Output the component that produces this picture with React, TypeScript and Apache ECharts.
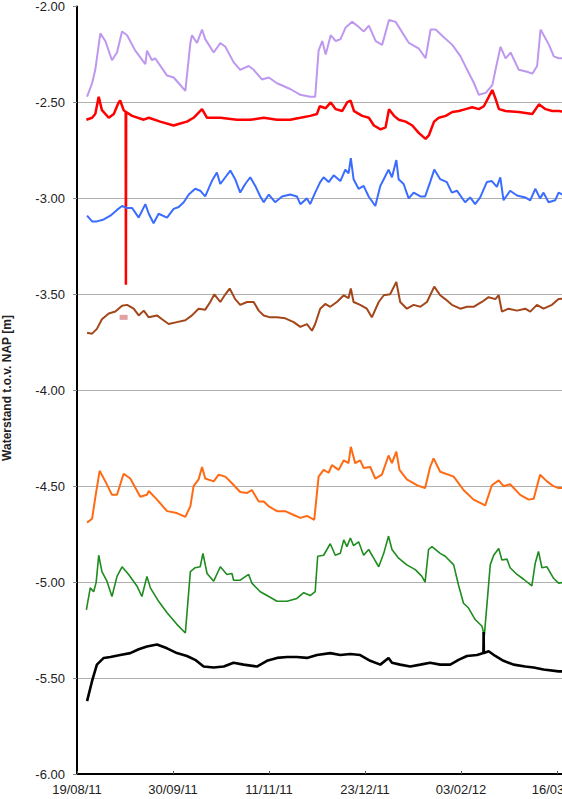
import React, { useEffect, useRef } from "react";
import * as echarts from "echarts";

// x = days since 19/08/2011, y = waterstand [m NAP]
const xTickDays = [0, 42, 84, 126, 168, 210, 252];
const yTicks = [-6, -5.5, -5, -4.5, -4, -3.5, -3, -2.5, -2];

const lavender: number[][] = [
  [4.4, -2.47], [6.6, -2.40], [8.0, -2.33], [10.2, -2.14], [12.4, -2.18], [15.3, -2.28], [17.5, -2.24],
  [19.7, -2.13], [21.9, -2.15], [25.5, -2.23], [29.9, -2.30], [30.6, -2.23], [32.8, -2.28], [34.2, -2.27],
  [39.4, -2.36], [42.3, -2.37], [44.5, -2.40], [47.4, -2.44], [49.6, -2.19], [50.3, -2.15], [52.5, -2.19],
  [54.7, -2.12], [56.1, -2.17], [59.8, -2.24], [62.7, -2.19], [64.9, -2.21], [68.5, -2.29], [71.4, -2.33],
  [75.1, -2.31], [77.3, -2.33], [80.9, -2.38], [83.9, -2.37], [87.5, -2.40], [93.3, -2.43], [97.7, -2.46],
  [102.0, -2.47], [104.2, -2.47], [105.7, -2.23], [107.3, -2.18], [108.8, -2.25], [111.0, -2.15],
  [113.2, -2.18], [115.3, -2.17], [117.5, -2.11], [120.4, -2.08], [122.6, -2.10], [125.5, -2.13],
  [127.7, -2.10], [130.7, -2.18], [133.5, -2.20], [136.5, -2.07], [139.4, -2.08], [145.2, -2.19],
  [149.6, -2.22], [152.5, -2.27], [154.7, -2.12], [156.9, -2.12], [160.5, -2.16], [164.2, -2.20],
  [167.8, -2.26], [170.7, -2.33], [173.7, -2.40], [175.8, -2.46], [178.8, -2.45], [181.7, -2.41],
  [183.1, -2.33], [185.3, -2.21], [187.5, -2.27], [189.7, -2.24], [193.3, -2.33], [196.9, -2.34],
  [199.2, -2.35], [201.3, -2.31], [202.8, -2.12], [206.5, -2.20], [208.6, -2.26], [210.8, -2.27], [214, -2.27],
];

const red: number[][] = [
  [4.1, -2.59], [6.6, -2.58], [8.0, -2.56], [9.5, -2.47], [10.9, -2.54], [13.9, -2.58], [16.1, -2.56],
  [18.2, -2.50], [18.9, -2.49], [20.4, -2.54], [21.3, -2.55], [21.4, -3.45], [21.5, -2.55], [24.1, -2.57],
  [29.2, -2.59], [31.4, -2.58], [36.4, -2.60], [42.3, -2.62], [45.2, -2.61], [48.1, -2.60], [51.0, -2.58],
  [54.7, -2.535], [56.9, -2.58], [62.7, -2.58], [70.0, -2.59], [75.8, -2.59], [81.7, -2.58], [87.5, -2.59],
  [93.3, -2.59], [97.7, -2.58], [102.0, -2.57], [105.0, -2.56], [106.2, -2.52], [108.8, -2.53],
  [111.0, -2.50], [113.2, -2.535], [116.0, -2.545], [118.2, -2.50], [119.7, -2.49], [121.2, -2.545],
  [124.8, -2.57], [127.7, -2.58], [129.9, -2.62], [132.8, -2.64], [135.0, -2.63], [136.5, -2.535],
  [138.7, -2.57], [140.8, -2.59], [143.8, -2.60], [146.7, -2.62], [149.6, -2.66], [152.5, -2.69],
  [154.0, -2.67], [156.2, -2.60], [158.3, -2.58], [161.3, -2.57], [164.2, -2.55], [167.1, -2.545],
  [170.0, -2.535], [172.9, -2.525], [175.8, -2.535], [178.0, -2.52], [180.2, -2.47], [181.7, -2.435],
  [183.1, -2.48], [184.6, -2.535], [187.5, -2.545], [193.3, -2.55], [199.2, -2.56], [202.1, -2.51],
  [205.0, -2.535], [207.9, -2.545], [210.8, -2.545], [214, -2.55],
];

const blue: number[][] = [
  [4.4, -3.09], [6.6, -3.12], [8.7, -3.12], [11.7, -3.11], [14.6, -3.09], [17.5, -3.06], [19.7, -3.04],
  [21.9, -3.05], [24.1, -3.05], [27.0, -3.10], [29.9, -3.03], [31.4, -3.08], [33.5, -3.13], [35.7, -3.08],
  [39.4, -3.10], [42.3, -3.055], [44.5, -3.045], [46.7, -3.02], [48.9, -2.98], [51.7, -2.95], [53.9, -2.96],
  [56.1, -2.99], [59.0, -2.91], [61.2, -2.865], [62.7, -2.925], [64.9, -2.89], [67.1, -2.855], [69.2, -2.90],
  [71.4, -2.97], [73.6, -2.925], [75.8, -2.89], [78.0, -2.935], [80.2, -2.99], [81.7, -3.02], [83.9, -2.98],
  [86.7, -3.02], [89.7, -2.99], [93.3, -2.98], [96.2, -2.99], [97.7, -3.03], [100.6, -3.00], [102.0, -3.03],
  [104.2, -2.97], [106.4, -2.915], [107.9, -2.89], [110.1, -2.915], [112.3, -2.88], [115.2, -2.91],
  [117.4, -2.85], [118.8, -2.87], [119.8, -2.79], [121.0, -2.90], [123.2, -2.95], [125.4, -2.935],
  [127.6, -2.99], [130.5, -3.04], [132.7, -2.935], [134.2, -2.90], [136.3, -2.85], [137.8, -2.89],
  [139.7, -2.80], [140.7, -2.90], [142.9, -2.925], [145.1, -3.00], [147.3, -2.97], [150.2, -2.99],
  [152.3, -2.99], [154.5, -2.915], [156.3, -2.85], [158.9, -2.90], [161.8, -2.915], [164.0, -2.97],
  [166.2, -2.96], [169.8, -3.02], [172.0, -2.995], [174.2, -3.03], [176.4, -2.995], [179.3, -2.915],
  [181.5, -2.91], [183.7, -2.94], [185.2, -2.89], [186.6, -3.01], [189.5, -2.96], [192.5, -2.985],
  [196.1, -2.995], [198.3, -3.01], [200.5, -2.95], [202.6, -3.00], [204.1, -2.97], [206.3, -3.02],
  [209.2, -3.01], [210.7, -2.97], [214, -2.99],
];

const brown: number[][] = [
  [4.4, -3.70], [6.6, -3.705], [8.7, -3.68], [10.9, -3.63], [13.9, -3.60], [16.8, -3.59], [19.7, -3.56],
  [21.9, -3.555], [24.8, -3.575], [27.0, -3.61], [29.2, -3.585], [31.4, -3.62], [35.0, -3.61], [37.2, -3.63],
  [40.1, -3.655], [43.7, -3.645], [47.4, -3.635], [50.3, -3.61], [53.2, -3.575], [56.1, -3.58], [58.3, -3.54],
  [60.1, -3.50], [62.7, -3.54], [64.9, -3.50], [66.8, -3.47], [69.2, -3.525], [71.4, -3.555], [74.4, -3.54],
  [77.3, -3.54], [79.5, -3.585], [81.7, -3.61], [84.5, -3.62], [87.5, -3.62], [91.1, -3.625], [94.8, -3.645],
  [97.7, -3.67], [100.6, -3.655], [102.8, -3.69], [104.2, -3.655], [106.4, -3.575], [108.6, -3.55],
  [110.8, -3.565], [113.7, -3.54], [116.7, -3.505], [118.8, -3.52], [119.8, -3.47], [121.0, -3.54],
  [123.9, -3.555], [126.8, -3.575], [129.0, -3.62], [132.0, -3.54], [134.2, -3.505], [137.0, -3.50],
  [139.7, -3.435], [141.4, -3.54], [144.3, -3.575], [147.3, -3.555], [150.2, -3.565], [153.1, -3.54],
  [156.3, -3.46], [158.9, -3.505], [161.1, -3.525], [164.0, -3.555], [167.7, -3.575], [170.6, -3.565],
  [173.5, -3.565], [177.1, -3.54], [180.1, -3.515], [183.0, -3.525], [184.5, -3.505], [185.9, -3.59],
  [188.8, -3.575], [192.5, -3.585], [196.1, -3.575], [198.3, -3.59], [201.2, -3.555], [204.1, -3.575],
  [207.8, -3.555], [210.7, -3.525], [214, -3.52],
];

const orange: number[][] = [
  [4.4, -4.69], [6.6, -4.67], [8.0, -4.56], [9.9, -4.42], [12.4, -4.475], [15.3, -4.545], [17.5, -4.545],
  [20.4, -4.435], [23.3, -4.46], [27.7, -4.555], [30.6, -4.545], [31.4, -4.525], [35.0, -4.57], [39.4, -4.63],
  [43.7, -4.64], [47.4, -4.66], [49.6, -4.605], [51.0, -4.50], [53.2, -4.465], [54.7, -4.40], [56.1, -4.46],
  [59.8, -4.475], [62.0, -4.44], [64.9, -4.45], [67.8, -4.485], [71.4, -4.53], [74.4, -4.535], [76.5, -4.52],
  [79.5, -4.58], [81.7, -4.58], [83.9, -4.605], [87.5, -4.63], [91.1, -4.63], [94.8, -4.65], [97.7, -4.665],
  [100.6, -4.655], [103.8, -4.675], [105.7, -4.45], [107.9, -4.415], [110.1, -4.43], [111.5, -4.39],
  [114.5, -4.415], [116.7, -4.365], [118.8, -4.38], [119.8, -4.295], [121.7, -4.38], [123.9, -4.365],
  [125.4, -4.405], [128.3, -4.40], [130.5, -4.46], [133.4, -4.44], [136.3, -4.34], [137.8, -4.38],
  [139.7, -4.32], [141.1, -4.415], [144.3, -4.465], [148.7, -4.495], [152.3, -4.51], [154.5, -4.40],
  [156.0, -4.355], [158.9, -4.425], [164.8, -4.45], [169.1, -4.52], [173.5, -4.57], [178.6, -4.60],
  [181.5, -4.495], [184.5, -4.47], [186.6, -4.50], [189.5, -4.49], [193.9, -4.545], [197.6, -4.57],
  [199.8, -4.565], [202.6, -4.44], [205.6, -4.475], [208.5, -4.50], [210.7, -4.51], [214, -4.51],
];

const green: number[][] = [
  [4.1, -5.145], [5.8, -5.03], [7.3, -5.05], [8.4, -5.00], [9.5, -4.86], [10.9, -4.945], [13.1, -4.995],
  [15.3, -5.075], [17.5, -4.97], [19.7, -4.92], [22.6, -4.96], [26.2, -5.02], [28.4, -5.075], [30.6, -4.97],
  [32.1, -5.03], [35.7, -5.10], [39.4, -5.16], [43.7, -5.22], [47.4, -5.265], [49.6, -4.945], [51.7, -4.925],
  [53.9, -4.92], [55.1, -4.85], [56.9, -4.955], [59.8, -4.995], [62.7, -4.92], [65.6, -4.96], [67.8, -4.955],
  [68.5, -4.99], [71.4, -4.99], [75.1, -4.96], [76.5, -5.005], [80.2, -5.05], [83.9, -5.075], [87.5, -5.10],
  [91.9, -5.10], [96.2, -5.085], [99.2, -5.055], [102.0, -5.07], [104.2, -5.05], [105.3, -4.865],
  [107.9, -4.86], [110.8, -4.80], [113.0, -4.86], [115.2, -4.85], [116.7, -4.78], [118.1, -4.815],
  [119.6, -4.77], [121.0, -4.81], [123.2, -4.79], [125.4, -4.86], [127.6, -4.83], [129.8, -4.875],
  [132.0, -4.92], [134.2, -4.85], [136.3, -4.76], [137.8, -4.83], [140.7, -4.875], [144.3, -4.91],
  [148.0, -4.935], [150.9, -4.97], [152.3, -5.00], [153.8, -4.83], [155.3, -4.815], [158.9, -4.85],
  [161.1, -4.865], [164.8, -4.91], [166.9, -5.015], [169.1, -5.11], [171.3, -5.135], [174.2, -5.195],
  [177.2, -5.23], [178.2, -5.28], [180.8, -4.91], [182.3, -4.86], [184.5, -4.825], [185.9, -4.885],
  [188.1, -4.88], [189.5, -4.925], [192.5, -4.96], [195.4, -4.985], [199.0, -5.02], [200.5, -4.90],
  [201.9, -4.84], [203.4, -4.925], [205.6, -4.92], [208.5, -4.98], [210.7, -5.005], [214, -5.00],
];

const black: number[][] = [
  [4.4, -5.62], [6.6, -5.515], [8.7, -5.43], [11.7, -5.395], [14.6, -5.39], [18.9, -5.38], [23.3, -5.37],
  [27.0, -5.35], [30.6, -5.335], [35.0, -5.325], [39.4, -5.345], [43.7, -5.37], [48.1, -5.385],
  [51.7, -5.405], [55.4, -5.44], [59.8, -5.445], [64.2, -5.44], [68.5, -5.42], [72.9, -5.43], [78.7, -5.44],
  [83.1, -5.41], [87.5, -5.395], [91.9, -5.39], [96.2, -5.39], [100.6, -5.395], [105.0, -5.38],
  [110.8, -5.37], [115.2, -5.38], [119.6, -5.375], [123.9, -5.38], [128.3, -5.41], [132.7, -5.43],
  [136.3, -5.395], [137.8, -5.42], [141.4, -5.43], [145.8, -5.44], [150.2, -5.43], [154.5, -5.42],
  [158.9, -5.43], [163.3, -5.43], [166.9, -5.405], [170.6, -5.385], [175.0, -5.38], [177.8, -5.37],
  [177.9, -5.26], [178.0, -5.37], [180.1, -5.36], [183.0, -5.385], [186.6, -5.41], [191.0, -5.43],
  [196.1, -5.44], [199.8, -5.445], [204.1, -5.455], [210.7, -5.465], [214, -5.465],
];

const pinkMark: number[][] = [[20.4, -3.62]];

const seriesDefs = [
  { name: "lavender", data: lavender, color: "#bd98ee", width: 2 },
  { name: "red", data: red, color: "#ff0000", width: 2.5 },
  { name: "blue", data: blue, color: "#3a6cff", width: 2 },
  { name: "brown", data: brown, color: "#a3461a", width: 2 },
  { name: "orange", data: orange, color: "#ff6a14", width: 2 },
  { name: "green", data: green, color: "#1e8c1e", width: 1.6 },
  { name: "black", data: black, color: "#000000", width: 2.6 },
];

const pad = (n: number) => (n < 10 ? "0" + n : "" + n);
const fmtDate = (v: number) => {
  const d = new Date(2011, 7, 19 + Math.round(v));
  return pad(d.getDate()) + "/" + pad(d.getMonth() + 1) + "/" + pad(d.getFullYear() % 100);
};

const FONT = "'Liberation Sans', Arial, sans-serif";

export default function App() {
  const ref = useRef<HTMLDivElement>(null);
  useEffect(() => {
    if (!ref.current) return;
    const chart = echarts.init(ref.current, undefined, { renderer: "svg" });
    chart.setOption({
      animation: false,
      backgroundColor: "#ffffff",
      grid: { left: 77, top: 4, width: 576, height: 770 },
      xAxis: {
        type: "value",
        min: xTickDays[0],
        max: xTickDays[xTickDays.length - 1],
        interval: 42,
        axisLine: { show: true, onZero: false, lineStyle: { color: "#000", width: 2 } },
        axisTick: { show: true, inside: true, length: 3, lineStyle: { color: "#555" } },
        splitLine: { show: false },
        axisLabel: {
          formatter: fmtDate,
          color: "#222",
          fontSize: 13,
          fontFamily: FONT,
          margin: 9,
          showMaxLabel: false,
          showMinLabel: true,
        },
      },
      yAxis: {
        type: "value",
        min: yTicks[0],
        max: yTicks[yTicks.length - 1],
        interval: 0.5,
        axisLine: { show: true, lineStyle: { color: "#000", width: 2 } },
        axisTick: { show: true, length: 4, lineStyle: { color: "#888" } },
        splitLine: { show: true, showMinLine: false, showMaxLine: false, lineStyle: { color: "#b0b0b0", width: 1 } },
        axisLabel: {
          formatter: (v: number) => v.toFixed(2),
          color: "#222",
          fontSize: 13,
          fontFamily: FONT,
          margin: 12,
        },
      },
      graphic: [
        {
          type: "text",
          x: 7,
          y: 388,
          rotation: Math.PI / 2,
          style: {
            text: "Waterstand t.o.v. NAP [m]",
            fontSize: 12,
            fontWeight: "bold",
            fontFamily: FONT,
            fill: "#222",
            align: "center",
            verticalAlign: "middle",
          },
        },
      ],
      series: [
        ...seriesDefs.map((s) => ({
          name: s.name,
          type: "line",
          data: s.data,
          showSymbol: false,
          symbol: "none",
          lineStyle: { color: s.color, width: s.width },
          itemStyle: { color: s.color },
          z: 3,
        })),
        {
          name: "marker",
          type: "scatter",
          data: pinkMark,
          symbol: "rect",
          symbolSize: [8, 5],
          itemStyle: { color: "#d88a8a" },
          z: 4,
        },
      ],
    });
    return () => chart.dispose();
  }, []);
  return (
    <div
      style={{
        position: "fixed",
        left: 0,
        top: 0,
        width: 562,
        height: 799,
        overflow: "hidden",
        background: "#fff",
      }}
    >
      <div ref={ref} style={{ width: 700, height: 799 }} />
    </div>
  );
}
